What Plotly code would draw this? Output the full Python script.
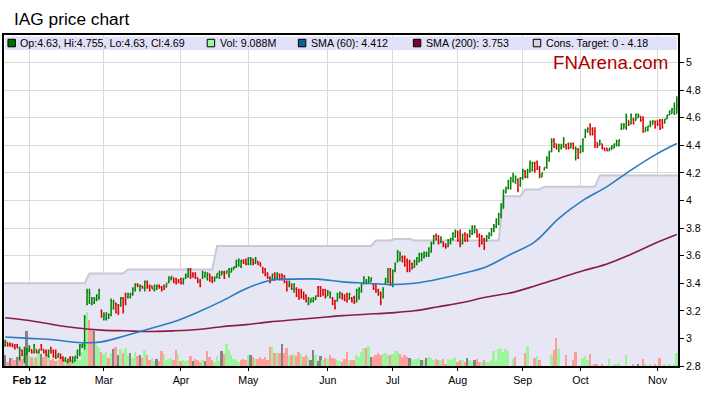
import plotly.graph_objects as go

# ---------------- data ----------------
bar_idx = list(range(280))

opens = [
    2.95,2.97,2.96,2.96,2.95,2.95,2.86,2.91,2.85,2.89,
    2.91,2.92,2.90,2.92,2.90,2.95,2.92,2.91,2.87,2.93,
    2.91,2.90,2.87,2.88,2.86,2.84,2.83,2.86,2.83,2.84,
    2.86,2.89,2.94,2.95,3.25,3.27,3.25,3.26,3.28,3.29,
    3.20,3.14,3.14,3.15,3.17,3.22,3.25,3.24,3.24,3.29,
    3.32,3.30,3.30,3.32,3.35,3.39,3.35,3.38,3.36,3.41,
    3.38,3.38,3.35,3.36,3.38,3.37,3.38,3.37,3.41,3.43,
    3.44,3.43,3.42,3.43,3.40,3.44,3.45,3.50,3.47,3.47,
    3.44,3.42,3.44,3.45,3.43,3.46,3.44,3.42,3.44,3.44,
    3.46,3.48,3.47,3.46,3.48,3.50,3.52,3.53,3.52,3.57,
    3.57,3.54,3.54,3.57,3.55,3.56,3.55,3.51,3.50,3.47,
    3.44,3.43,3.47,3.44,3.46,3.46,3.45,3.41,3.38,3.39,
    3.34,3.36,3.35,3.34,3.33,3.31,3.25,3.26,3.27,3.28,
    3.37,3.37,3.35,3.35,3.31,3.30,3.29,3.27,3.27,3.30,
    3.32,3.31,3.32,3.29,3.29,3.30,3.27,3.30,3.34,3.40,
    3.40,3.41,3.41,3.39,3.39,3.35,3.33,3.30,3.40,3.41,
    3.49,3.40,3.49,3.56,3.57,3.59,3.59,3.56,3.55,3.54,
    3.52,3.54,3.56,3.57,3.59,3.60,3.60,3.63,3.69,3.75,
    3.74,3.70,3.70,3.68,3.67,3.69,3.72,3.74,3.77,3.76,
    3.69,3.76,3.75,3.74,3.76,3.77,3.79,3.75,3.74,3.72,
    3.71,3.73,3.75,3.78,3.81,3.84,3.89,3.96,4.06,4.09,
    4.09,4.14,4.13,4.15,4.11,4.16,4.21,4.17,4.21,4.22,
    4.27,4.28,4.24,4.17,4.22,4.24,4.29,4.36,4.44,4.41,
    4.36,4.38,4.39,4.40,4.41,4.38,4.41,4.31,4.37,4.35,
    4.37,4.46,4.50,4.54,4.52,4.50,4.42,4.40,4.41,4.38,
    4.38,4.36,4.37,4.38,4.40,4.40,4.52,4.52,4.53,4.58,
    4.56,4.59,4.58,4.60,4.61,4.59,4.50,4.51,4.54,4.55,
    4.57,4.58,4.58,4.58,4.56,4.59,4.62,4.63,4.63,4.63,
]
highs = [
    2.99,2.97,2.97,2.965,2.96,2.96,2.94,2.92,2.94,2.93,
    2.95,2.92,2.96,2.92,2.92,2.96,2.92,2.92,2.92,2.94,
    2.92,2.92,2.89,2.89,2.87,2.86,2.85,2.87,2.87,2.87,
    2.92,2.96,2.96,3.17,3.36,3.36,3.30,3.30,3.32,3.36,
    3.21,3.19,3.19,3.18,3.29,3.28,3.26,3.25,3.30,3.30,
    3.33,3.33,3.33,3.37,3.40,3.40,3.39,3.38,3.42,3.42,
    3.39,3.38,3.39,3.39,3.39,3.38,3.39,3.40,3.45,3.45,
    3.44,3.44,3.43,3.44,3.44,3.47,3.51,3.51,3.48,3.48,
    3.44,3.43,3.49,3.48,3.48,3.47,3.45,3.45,3.47,3.49,
    3.49,3.49,3.49,3.51,3.51,3.52,3.57,3.58,3.57,3.57,
    3.58,3.59,3.59,3.58,3.59,3.56,3.55,3.52,3.51,3.48,
    3.45,3.47,3.48,3.48,3.47,3.47,3.46,3.42,3.42,3.40,
    3.40,3.37,3.36,3.36,3.34,3.32,3.30,3.29,3.30,3.31,
    3.38,3.38,3.36,3.36,3.35,3.34,3.30,3.28,3.33,3.34,
    3.33,3.32,3.33,3.33,3.30,3.31,3.36,3.37,3.40,3.45,
    3.43,3.45,3.44,3.40,3.40,3.36,3.34,3.37,3.44,3.51,
    3.51,3.50,3.55,3.64,3.63,3.60,3.60,3.58,3.57,3.55,
    3.57,3.59,3.62,3.62,3.63,3.63,3.66,3.70,3.75,3.76,
    3.75,3.74,3.70,3.69,3.72,3.73,3.77,3.79,3.78,3.79,
    3.76,3.77,3.76,3.79,3.82,3.82,3.79,3.76,3.75,3.73,
    3.75,3.77,3.80,3.83,3.87,3.91,3.98,4.08,4.10,4.15,
    4.17,4.20,4.18,4.16,4.17,4.23,4.22,4.23,4.29,4.28,
    4.28,4.29,4.25,4.20,4.24,4.32,4.36,4.45,4.45,4.41,
    4.41,4.41,4.46,4.41,4.42,4.42,4.42,4.39,4.38,4.40,
    4.45,4.52,4.53,4.56,4.53,4.53,4.42,4.44,4.41,4.38,
    4.38,4.38,4.40,4.41,4.44,4.44,4.56,4.56,4.63,4.58,
    4.63,4.60,4.63,4.63,4.61,4.61,4.53,4.54,4.58,4.58,
    4.58,4.58,4.59,4.59,4.59,4.62,4.65,4.67,4.71,4.755,
]
lows = [
    2.94,2.94,2.94,2.935,2.92,2.93,2.84,2.87,2.82,2.88,
    2.90,2.89,2.89,2.89,2.89,2.91,2.89,2.87,2.86,2.89,
    2.86,2.85,2.86,2.85,2.83,2.83,2.82,2.83,2.82,2.83,
    2.85,2.87,2.93,2.92,3.24,3.25,3.24,3.25,3.27,3.28,
    3.15,3.13,3.13,3.14,3.16,3.21,3.18,3.17,3.23,3.18,
    3.24,3.29,3.29,3.31,3.34,3.37,3.34,3.36,3.34,3.36,
    3.34,3.36,3.34,3.35,3.36,3.34,3.35,3.37,3.40,3.42,
    3.40,3.39,3.40,3.39,3.39,3.43,3.44,3.43,3.44,3.43,
    3.40,3.37,3.43,3.44,3.42,3.41,3.40,3.41,3.44,3.43,
    3.46,3.43,3.47,3.44,3.48,3.50,3.51,3.52,3.51,3.54,
    3.53,3.53,3.53,3.53,3.54,3.53,3.52,3.47,3.45,3.43,
    3.40,3.42,3.42,3.43,3.42,3.42,3.40,3.34,3.37,3.35,
    3.33,3.30,3.28,3.29,3.28,3.26,3.24,3.26,3.26,3.28,
    3.30,3.30,3.31,3.29,3.31,3.29,3.24,3.21,3.27,3.29,
    3.28,3.27,3.26,3.28,3.26,3.25,3.26,3.28,3.33,3.39,
    3.39,3.40,3.41,3.35,3.33,3.31,3.24,3.29,3.39,3.40,
    3.38,3.37,3.48,3.55,3.56,3.55,3.52,3.48,3.48,3.50,
    3.51,3.53,3.55,3.56,3.58,3.59,3.59,3.62,3.68,3.71,
    3.68,3.69,3.66,3.65,3.66,3.68,3.71,3.73,3.70,3.66,
    3.68,3.70,3.70,3.73,3.75,3.76,3.73,3.66,3.68,3.64,
    3.70,3.72,3.74,3.77,3.80,3.82,3.87,3.94,4.05,4.08,
    4.08,4.13,4.12,4.06,4.10,4.15,4.16,4.16,4.20,4.21,
    4.20,4.22,4.16,4.17,4.22,4.23,4.28,4.35,4.38,4.37,
    4.35,4.37,4.38,4.37,4.37,4.38,4.37,4.29,4.30,4.34,
    4.35,4.45,4.49,4.47,4.47,4.38,4.38,4.40,4.37,4.36,
    4.36,4.36,4.37,4.38,4.39,4.39,4.51,4.52,4.51,4.54,
    4.55,4.55,4.58,4.60,4.57,4.49,4.50,4.50,4.53,4.55,
    4.52,4.54,4.51,4.52,4.56,4.59,4.62,4.63,4.62,4.63,
]
closes = [
    2.98,2.95,2.95,2.94,2.93,2.93,2.92,2.88,2.92,2.92,
    2.94,2.90,2.95,2.90,2.92,2.92,2.90,2.88,2.91,2.90,
    2.87,2.86,2.89,2.86,2.84,2.86,2.85,2.84,2.86,2.87,
    2.91,2.95,2.96,3.15,3.34,3.33,3.29,3.29,3.31,3.35,
    3.16,3.17,3.18,3.17,3.27,3.27,3.19,3.19,3.29,3.20,
    3.25,3.32,3.32,3.36,3.39,3.38,3.38,3.37,3.41,3.37,
    3.35,3.36,3.38,3.38,3.37,3.35,3.36,3.40,3.44,3.45,
    3.41,3.40,3.41,3.40,3.43,3.46,3.50,3.45,3.45,3.44,
    3.41,3.38,3.48,3.48,3.47,3.42,3.41,3.44,3.47,3.48,
    3.48,3.44,3.49,3.50,3.51,3.52,3.56,3.57,3.56,3.55,
    3.54,3.58,3.58,3.54,3.58,3.54,3.53,3.48,3.46,3.44,
    3.41,3.46,3.43,3.47,3.43,3.43,3.41,3.35,3.41,3.36,
    3.39,3.31,3.29,3.30,3.29,3.27,3.29,3.29,3.29,3.31,
    3.31,3.31,3.32,3.30,3.34,3.33,3.25,3.22,3.32,3.33,
    3.29,3.28,3.27,3.32,3.27,3.26,3.35,3.36,3.39,3.44,
    3.42,3.44,3.44,3.36,3.34,3.32,3.26,3.36,3.43,3.50,
    3.40,3.49,3.54,3.62,3.61,3.56,3.53,3.50,3.50,3.51,
    3.56,3.58,3.61,3.61,3.62,3.62,3.65,3.69,3.74,3.72,
    3.69,3.73,3.67,3.66,3.71,3.72,3.76,3.78,3.71,3.68,
    3.75,3.71,3.71,3.78,3.81,3.81,3.74,3.68,3.69,3.66,
    3.74,3.76,3.79,3.82,3.86,3.90,3.97,4.07,4.09,4.14,
    4.16,4.18,4.17,4.08,4.16,4.22,4.17,4.22,4.27,4.27,
    4.22,4.23,4.18,4.20,4.24,4.31,4.35,4.43,4.39,4.38,
    4.40,4.40,4.44,4.38,4.38,4.41,4.38,4.37,4.31,4.39,
    4.44,4.51,4.52,4.48,4.48,4.40,4.39,4.43,4.38,4.36,
    4.36,4.38,4.39,4.41,4.43,4.44,4.55,4.55,4.61,4.55,
    4.62,4.56,4.62,4.62,4.58,4.50,4.53,4.54,4.57,4.58,
    4.53,4.55,4.52,4.53,4.59,4.62,4.65,4.66,4.67,4.69,
]
# volume, millions of shares
volumes = [
    7.5,2.7,5.5,5.5,4.1,6.1,6.1,4.8,6.1,23.9,
    7.5,6.1,5.5,6.1,9.6,8.2,6.1,10.9,7.5,4.1,
    4.8,3.4,4.1,6.1,2.7,6.1,4.1,4.8,4.1,3.4,
    4.1,4.1,9.6,17.8,36.9,31.4,24.6,23.9,14.3,12.3,
    9.6,8.2,9.6,5.5,8.9,11.6,13.0,7.5,11.6,8.9,
    12.3,7.5,8.9,5.5,9.6,6.8,7.5,5.5,10.9,7.5,
    4.1,5.5,3.4,4.8,3.4,10.2,8.2,4.1,4.8,5.5,
    4.1,10.9,8.2,3.4,4.1,3.4,4.1,6.8,3.4,4.8,
    4.1,2.7,4.1,3.4,10.2,6.1,4.1,2.7,6.8,3.4,
    10.2,8.2,15.0,10.9,7.5,4.8,4.1,2.7,4.1,4.8,
    4.1,7.5,7.5,6.1,4.8,4.8,6.1,4.8,6.1,4.1,
    13.0,13.7,8.9,8.9,8.9,15.0,8.9,12.3,6.8,7.5,
    8.2,6.8,9.6,8.2,6.1,7.5,6.1,4.1,10.9,7.5,
    3.4,6.8,4.1,5.5,4.8,7.5,5.5,4.8,4.1,3.4,
    2.7,4.8,9.6,4.1,4.1,4.1,7.5,6.1,9.6,12.3,
    12.3,13.7,6.1,6.1,7.5,8.9,7.5,8.2,8.9,7.5,
    7.5,8.2,10.2,10.2,8.2,6.1,7.5,6.1,5.5,4.8,
    4.1,4.8,5.5,4.1,4.1,5.5,6.1,5.5,4.1,4.8,
    4.1,4.1,4.8,0.7,4.8,4.1,4.8,6.1,2.7,4.1,
    4.1,2.7,5.5,4.1,2.7,4.1,4.8,2.7,2.7,4.1,
    2.7,2.7,4.1,10.2,3.4,11.6,12.3,9.6,11.6,10.2,
    0,4.8,6.1,0,0,0,8.9,13.7,0,0,
    5.5,6.8,4.1,0,0,0,0,7.5,10.9,19.1,
    11.6,0,0,7.5,0,0,4.1,9.6,0,0,
    5.5,6.8,4.1,8.2,0,0.7,1.4,0,0.7,0,
    0,4.8,0,1.4,0.7,2.0,0,0,7.5,0,
    0,0.7,0,0.7,0,4.8,0.7,0,0.7,0,
    0.7,0,5.5,0,0.7,0,0.7,0,0.7,9.088,
]

sma_idx = [0, 10, 20, 30, 40, 50, 60, 70, 80, 90, 100, 110, 120, 130, 140,
           150, 160, 170, 180, 190, 200, 210, 220, 230, 240, 250, 260, 270, 279]
sma60 = [3.01, 3.00, 2.99, 2.97, 2.975, 3.02, 3.07, 3.12, 3.19, 3.27, 3.36, 3.42,
         3.43, 3.43, 3.41, 3.40, 3.39, 3.40, 3.43, 3.47, 3.52, 3.61, 3.70, 3.87,
         4.00, 4.10, 4.22, 4.33, 4.412]
sma200 = [3.15, 3.13, 3.10, 3.075, 3.06, 3.055, 3.05, 3.055, 3.065, 3.085, 3.10,
          3.12, 3.135, 3.15, 3.165, 3.175, 3.185, 3.20, 3.23, 3.26, 3.30, 3.33,
          3.38, 3.435, 3.49, 3.54, 3.61, 3.69, 3.753]

target_idx = [-0.5, 33, 35, 49, 51, 86, 88, 152, 154, 160, 162, 168, 170,
              205, 207, 214, 216, 222, 224, 245, 247, 279.5]
target_val = [3.40, 3.40, 3.47, 3.47, 3.50, 3.50, 3.67, 3.67, 3.71, 3.71, 3.72,
              3.72, 3.71, 3.71, 4.03, 4.03, 4.08, 4.08, 4.10, 4.10, 4.18, 4.18]
target_low = 0

month_idx = [10, 41, 73, 101, 134, 161, 188, 215, 239, 271]
month_labels = ["<b>Feb 12</b>", "Mar", "Apr", "May", "Jun", "Jul", "Aug", "Sep", "Oct", "Nov"]

# ---------------- geometry helpers ----------------
W, H = 703, 397
ML, MR, MT, MB = 2, 21, 35, 31
PW = W - ML - MR
PH = H - MT - MB
VOL_PER_PX = 0.683


def fx(x):
    return (x - ML) / PW


def fy(y):
    return 1 - (y - MT) / PH


FONT = "Arial, Liberation Sans, sans-serif"
SMALL = 10.67

# volume colour by close vs previous close
vol_colors = []
for i, c in enumerate(closes):
    prev = closes[i - 1] if i > 0 else c
    if c > prev:
        vol_colors.append("#9cf59c")
    elif c < prev:
        vol_colors.append("#ff9c9c")
    else:
        vol_colors.append("#858585")

fig = go.Figure()

fig.add_trace(go.Scatter(
    x=target_idx, y=target_val, mode="lines", fill="tozeroy",
    fillcolor="#e6e6f4", line=dict(color="#c8c8d6", width=2),
    hoverinfo="skip", showlegend=False, xaxis="x", yaxis="y"))

fig.add_trace(go.Bar(
    x=bar_idx, y=volumes, marker=dict(color=vol_colors, line=dict(width=0)),
    width=0.8, showlegend=False, xaxis="x", yaxis="y2"))

fig.add_trace(go.Scatter(
    x=sma_idx, y=sma200, mode="lines", line=dict(color="#8a1c46", width=1.6, shape="spline"),
    showlegend=False, xaxis="x", yaxis="y3"))
fig.add_trace(go.Scatter(
    x=sma_idx, y=sma60, mode="lines", line=dict(color="#2a7cc0", width=1.6, shape="spline"),
    showlegend=False, xaxis="x", yaxis="y3"))

fig.add_trace(go.Ohlc(
    x=bar_idx, open=opens, high=highs, low=lows, close=closes,
    increasing=dict(line=dict(color="#008000", width=1.5)),
    decreasing=dict(line=dict(color="#dd0000", width=1.5)),
    tickwidth=0.4, showlegend=False, xaxis="x", yaxis="y3"))

yr = [2.8, 5.199]
grid = "#dadada"
fig.update_layout(
    width=W, height=H, margin=dict(l=ML, r=MR, t=MT, b=MB, pad=0),
    paper_bgcolor="white", plot_bgcolor="white", showlegend=False,
    font=dict(family=FONT, size=SMALL, color="black"),
    bargap=0,
    xaxis=dict(range=[-0.5, 279.5], tickmode="array", tickvals=month_idx, ticktext=month_labels,
               showgrid=True, gridcolor=grid, gridwidth=1, zeroline=False,
               showline=True, linecolor="black", linewidth=1.5, mirror=True,
               ticks="outside", ticklen=3, tickcolor="black",
               tickfont=dict(family=FONT, size=SMALL, color="black"),
               rangeslider=dict(visible=False)),
    yaxis=dict(range=yr, side="right", tick0=2.8, dtick=0.2,
               showgrid=True, gridcolor=grid, gridwidth=1, zeroline=False,
               showline=True, linecolor="black", linewidth=1.5, mirror=True,
               ticks="outside", ticklen=4, tickcolor="black",
               tickfont=dict(family=FONT, size=SMALL, color="black")),
    yaxis2=dict(overlaying="y", range=[0, PH * VOL_PER_PX], visible=False, fixedrange=True),
    yaxis3=dict(overlaying="y", range=yr, visible=False),
)

shapes = [dict(type="rect", xref="paper", yref="paper", layer="above",
               x0=fx(2.8), x1=fx(681), y0=fy(50), y1=fy(36.4),
               fillcolor="#e1e1f8", line=dict(width=0))]

legend_items = [
    (6, "#006e00", f"Op:{opens[-1]:g}, Hi:{highs[-1]:g}, Lo:{lows[-1]:g}, Cl:{closes[-1]:g}"),
    (207, "#a0f5a0", f"Vol: {volumes[-1]:.3f}M"),
    (299, "#1060a0", f"SMA (60): {sma60[-1]:.3f}"),
    (415, "#800028", f"SMA (200): {sma200[-1]:.3f}"),
    (536, "#d4d4dc", f"Cons. Target: {target_low} - {target_val[-1]:g}"),
]
annotations = [
    dict(text="IAG price chart", xref="paper", yref="paper", x=fx(10), y=fy(19),
         xanchor="left", yanchor="middle", showarrow=False,
         font=dict(family=FONT, size=17.3, color="black")),
    dict(text="FNArena.com", xref="paper", yref="paper", x=fx(554), y=fy(63),
         xanchor="left", yanchor="middle", showarrow=False,
         font=dict(family=FONT, size=18.7, color="#b00000")),
]
for x0, col, txt in legend_items:
    shapes.append(dict(type="rect", xref="paper", yref="paper", layer="above",
                       x0=fx(x0), x1=fx(x0 + 7.5), y0=fy(46.8), y1=fy(39.3),
                       fillcolor=col, line=dict(color="black", width=1)))
    annotations.append(dict(text=txt, xref="paper", yref="paper", x=fx(x0 + 10.5), y=fy(43.3),
                            xanchor="left", yanchor="middle", showarrow=False,
                            font=dict(family=FONT, size=SMALL, color="black")))

fig.update_layout(shapes=shapes, annotations=annotations)
fig.write_html(
    "out.html",
    config={"displayModeBar": False},
    post_script="document.body.style.margin='0';document.body.style.overflow='hidden';",
)
